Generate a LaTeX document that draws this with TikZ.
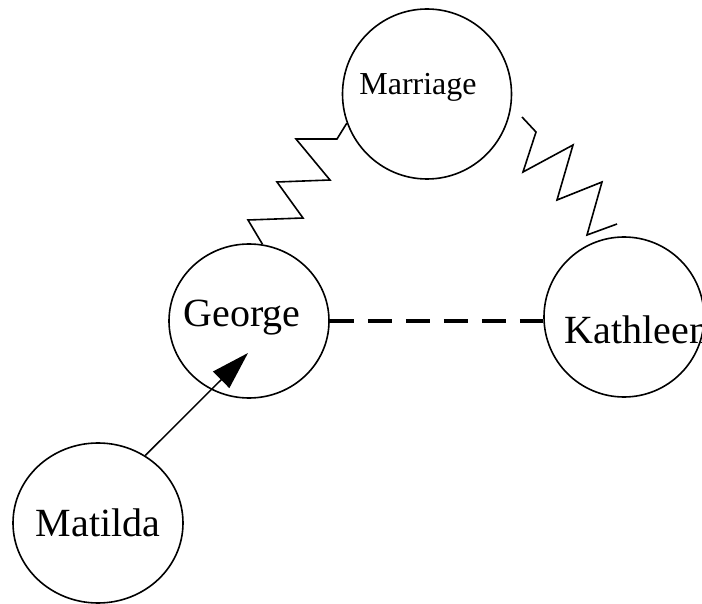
\documentclass[tikz,border=0pt]{standalone}
\usepackage{fontspec}
\setmainfont{Liberation Serif}
\usetikzlibrary{shapes.geometric,arrows.meta}
\begin{document}
\begin{tikzpicture}[x=1pt,y=-1pt,
  person/.style={draw,ellipse,inner sep=0pt,line width=1.6pt},
  bigtext/.style={font=\fontsize{40}{48}\selectfont},
  zig/.style={line width=1.6pt,line join=miter}]
\useasboundingbox (0,0) rectangle (702,604);
\clip (0,0) rectangle (702,604);
\node[person,minimum width=169pt,minimum height=170pt,
  label={[xshift=-9pt,yshift=7pt,font=\fontsize{32}{38}\selectfont]center:Marriage}] (m) at (427,94) {};
\node[person,minimum width=160pt,minimum height=154pt,
  label={[xshift=-7pt,yshift=3pt,bigtext]center:George}] (g) at (249,321) {};
\node[person,minimum width=160pt,minimum height=160pt,
  label={[xshift=13pt,yshift=-13pt,bigtext]center:Kathleen}] (k) at (624,317) {};
\node[person,minimum width=170pt,minimum height=160pt,
  label={[bigtext]center:Matilda}] (mt) at (98,523) {};
% zigzag links
\draw[zig] (m.200) -- (337,139) -- (296,139) -- (330,180) -- (277,182) -- (303,218) -- (248,220) -- (g.80);
\coordinate (rz1) at (522,117);
\coordinate (rz2) at (617,224);
\draw[zig] (rz1) -- (536,132) -- (523,172) -- (573,145) -- (557,200) -- (602,182) -- (587,235) -- (rz2);
% dashed link
\draw[line width=4pt,dash pattern=on 24pt off 14pt] (g.east) -- (k.west |- g.east);
% arrow
\coordinate (gtip) at (248,353);
\draw[line width=1.5pt,-{Triangle[length=38pt,width=23pt]}] (mt.55) -- (gtip);
\end{tikzpicture}
\end{document}
